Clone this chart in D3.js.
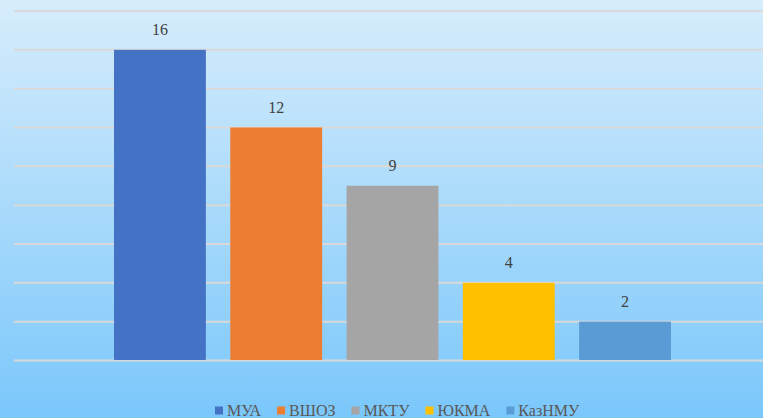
<!DOCTYPE html>
<html>
<head>
<meta charset="utf-8">
<script src="https://cdn.jsdelivr.net/npm/d3@7"></script>
<style>
  body { margin: 0; padding: 0; overflow: hidden; }
  svg { display: block; }
</style>
</head>
<body>
<div id="chart"></div>
<script>
// Chart data
const categories = ["МУА", "ВШОЗ", "МКТУ", "ЮКМА", "КазНМУ"];
const values = [16, 12, 9, 4, 2];
const colors = ["#4472C4", "#ED7D31", "#A5A5A5", "#FFC000", "#5B9BD5"];
const gridTicks = [0, 2, 4, 6, 8, 10, 12, 14, 16, 18];

const width = 763, height = 418;
const margin = { top: 11, left: 14 };
const fontFamily = "'Liberation Serif', 'Times New Roman', serif";

const svg = d3.select("#chart")
  .append("svg")
  .attr("width", width)
  .attr("height", height);

// background gradient
const grad = svg.append("defs").append("linearGradient")
  .attr("id", "bg")
  .attr("x1", 0).attr("y1", 0).attr("x2", 0).attr("y2", 1);
grad.append("stop").attr("offset", "0%").attr("stop-color", "#d7edfc");
grad.append("stop").attr("offset", "50%").attr("stop-color", "#a9dafb");
grad.append("stop").attr("offset", "100%").attr("stop-color", "#7ac7fb");

svg.append("rect")
  .attr("width", width)
  .attr("height", height)
  .attr("fill", "url(#bg)");

// scales
const x = d3.scaleBand()
  .domain(categories)
  .range([margin.left, 771])
  .paddingInner(0.21)
  .paddingOuter(0.86);

const y = d3.scaleLinear()
  .domain([0, 18])
  .range([360.5, margin.top]);

// gridlines
svg.append("g")
  .selectAll("line")
  .data(gridTicks)
  .enter()
  .append("line")
  .attr("x1", margin.left)
  .attr("x2", width)
  .attr("y1", d => y(d))
  .attr("y2", d => y(d))
  .attr("stroke", "#d9d9d9")
  .attr("stroke-width", 2);

// bars
svg.append("g")
  .selectAll("rect")
  .data(values)
  .enter()
  .append("rect")
  .attr("x", (d, i) => x(categories[i]))
  .attr("y", d => y(d))
  .attr("width", x.bandwidth())
  .attr("height", d => y(0) - y(d) - 0.5)
  .attr("fill", (d, i) => colors[i]);

// value labels
svg.append("g")
  .selectAll("text")
  .data(values)
  .enter()
  .append("text")
  .attr("x", (d, i) => x(categories[i]) + x.bandwidth() / 2)
  .attr("y", d => y(d) - 15)
  .attr("text-anchor", "middle")
  .attr("font-family", fontFamily)
  .attr("font-size", 16)
  .attr("fill", "#404040")
  .text(d => d);

// legend
const legend = svg.append("g");
let lx = 215;
categories.forEach(function(c, i) {
  legend.append("rect")
    .attr("x", lx)
    .attr("y", 406.5)
    .attr("width", 8)
    .attr("height", 8)
    .attr("fill", colors[i]);
  const t = legend.append("text")
    .attr("x", lx + 12)
    .attr("y", 416)
    .attr("font-family", fontFamily)
    .attr("font-size", 16)
    .attr("fill", "#595959")
    .text(c);
  lx += 12 + t.node().getComputedTextLength() + 16;
});
</script>
</body>
</html>
